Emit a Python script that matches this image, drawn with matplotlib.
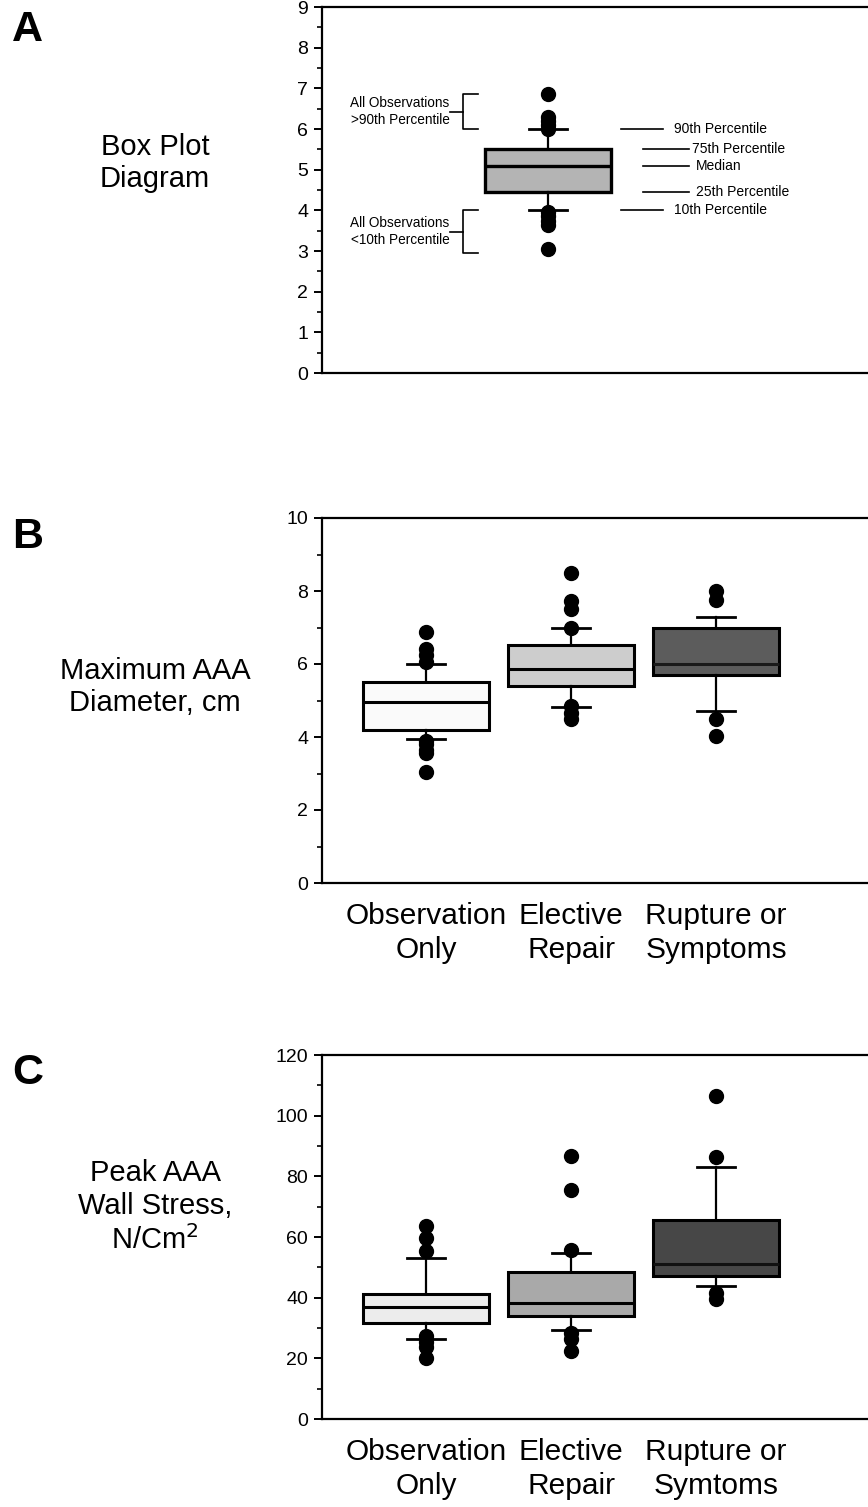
import matplotlib
matplotlib.use("Agg")
import matplotlib.pyplot as plt
from matplotlib.ticker import MultipleLocator

plt.rcParams['font.family'] = ['Liberation Sans', 'DejaVu Sans']

# ---------------- data ----------------
# Panel A: schematic box plot
a_stats = dict(med=5.1, q1=4.45, q3=5.5, whislo=4.0, whishi=6.0)
a_fliers = [6.85, 6.3, 6.2, 6.1, 6.0, 3.95, 3.85, 3.75, 3.65, 3.05]

# Panel B: maximum AAA diameter, cm
b_categories = ["Observation\nOnly", "Elective\nRepair", "Rupture or\nSymptoms"]
b_med = [4.97, 5.87, 6.0]
b_q1 = [4.2, 5.4, 5.7]
b_q3 = [5.52, 6.52, 7.0]
b_whislo = [3.95, 4.82, 4.7]
b_whishi = [6.0, 6.98, 7.3]
b_fliers = [
    [6.88, 6.4, 6.25, 6.05, 3.9, 3.8, 3.65, 3.55, 3.03],
    [8.5, 7.73, 7.5, 7.0, 4.85, 4.65, 4.5],
    [8.0, 7.75, 4.5, 4.03],
]

# Panel C: peak AAA wall stress, N/cm^2
c_categories = ["Observation\nOnly", "Elective\nRepair", "Rupture or\nSymtoms"]
c_med = [37.0, 38.2, 51.0]
c_q1 = [31.8, 33.9, 47.0]
c_q3 = [41.3, 48.4, 65.6]
c_whislo = [26.4, 29.5, 44.0]
c_whishi = [53.0, 54.6, 83.0]
c_fliers = [
    [63.6, 59.6, 55.3, 27.5, 25.5, 23.8, 20.2],
    [86.8, 75.5, 55.6, 28.3, 26.4, 22.4],
    [106.4, 86.4, 41.7, 39.6],
]

# ---------------- styling ----------------
W, H = 868, 1507
fig = plt.figure(figsize=(W / 100, H / 100), dpi=100)

def px_axes(left, top, bottom, right=W):
    return fig.add_axes([left / W, (H - bottom) / H, (right - left) / W, (bottom - top) / H])

ax_a = px_axes(322, 7, 373)
ax_b = px_axes(322, 518, 883)
ax_c = px_axes(322, 1055, 1419)

box_w = 0.87
cap_w = 0.26
flierprops = dict(marker='o', markerfacecolor='black', markeredgecolor='black', markersize=10, linestyle='none')

def style_axes(ax, ymax, major, minor, xlim):
    ax.set_ylim(0, ymax)
    ax.set_xlim(*xlim)
    ax.yaxis.set_major_locator(MultipleLocator(major))
    ax.yaxis.set_minor_locator(MultipleLocator(minor))
    for s in ['left', 'bottom', 'top']:
        ax.spines[s].set_linewidth(1.6)
    ax.spines['right'].set_visible(False)
    ax.tick_params(axis='y', which='major', length=6, width=1.4, labelsize=14, pad=4)
    ax.tick_params(axis='y', which='minor', length=3.5, width=1.2)
    ax.tick_params(axis='x', length=0, labelsize=21.5, pad=14)

def draw_boxes(ax, meds, q1s, q3s, los, his, fliers, positions, colors, med_colors):
    stats = []
    for m, a, b, lo, hi, f in zip(meds, q1s, q3s, los, his, fliers):
        stats.append(dict(med=m, q1=a, q3=b, whislo=lo, whishi=hi, fliers=f))
    bp = ax.bxp(stats, positions=positions, widths=box_w, capwidths=cap_w,
                patch_artist=True, showfliers=True, manage_ticks=False,
                boxprops=dict(linewidth=2.2, edgecolor='black'),
                whiskerprops=dict(linewidth=1.6, color='black'),
                capprops=dict(linewidth=2.0, color='black'),
                medianprops=dict(linewidth=2.2, color='black'),
                flierprops=flierprops)
    for patch, c in zip(bp['boxes'], colors):
        patch.set_facecolor(c)
    for med, c in zip(bp['medians'], med_colors):
        med.set_color(c)
    return bp

# ---- Panel A ----
style_axes(ax_a, 9, 1, 0.5, (1.5 - 226 / 145, 1.5 + 320 / 145))
ax_a.set_xticks([])
st = dict(a_stats)
st['fliers'] = a_fliers
bp = ax_a.bxp([st], positions=[1.5], widths=box_w, capwidths=cap_w, patch_artist=True,
              manage_ticks=False,
              boxprops=dict(linewidth=2.4, edgecolor='black', facecolor='#b4b4b4'),
              whiskerprops=dict(linewidth=1.6, color='black'),
              capprops=dict(linewidth=2.0, color='black'),
              medianprops=dict(linewidth=2.4, color='black'),
              flierprops=flierprops)

# brackets on left
def bracket(ax, x0, x1, ylo, yhi):
    ax.plot([x1, x0, x0, x1], [yhi, yhi, ylo, ylo], color='black', lw=1.2)
    ax.plot([x0 - 0.09, x0], [(ylo + yhi) / 2] * 2, color='black', lw=1.2)

bracket(ax_a, 0.915, 1.02, 6.0, 6.85)
bracket(ax_a, 0.915, 1.02, 2.95, 4.0)
ax_a.text(0.82, 6.43, "All Observations\n>90th Percentile", ha='right', va='center', fontsize=9.8, linespacing=1.3)
ax_a.text(0.82, 3.48, "All Observations\n<10th Percentile", ha='right', va='center', fontsize=9.8, linespacing=1.3)

# right side labels
right_labels = [
    (6.0, 2.0, 2.29, 2.37, "90th Percentile"),
    (5.5, 2.155, 2.47, 2.49, "75th Percentile"),
    (5.1, 2.155, 2.47, 2.52, "Median"),
    (4.45, 2.155, 2.47, 2.52, "25th Percentile"),
    (4.0, 2.0, 2.29, 2.37, "10th Percentile"),
]
for y, x0, x1, xt, lab in right_labels:
    ax_a.plot([x0, x1], [y, y], color='black', lw=1.2)
    ax_a.text(xt, y, lab, ha='left', va='center', fontsize=10)

# ---- Panel B ----
xl = (1 - 104 / 145, 1 + 442 / 145)
style_axes(ax_b, 10, 2, 1, xl)
draw_boxes(ax_b, b_med, b_q1, b_q3, b_whislo, b_whishi, b_fliers, [1, 2, 3],
           ['#fafafa', '#cdcdcd', '#5c5c5c'], ['black', 'black', '#1a1a1a'])
ax_b.set_xticks([1, 2, 3])
ax_b.set_xticklabels(b_categories, linespacing=1.25)

# ---- Panel C ----
style_axes(ax_c, 120, 20, 10, xl)
draw_boxes(ax_c, c_med, c_q1, c_q3, c_whislo, c_whishi, c_fliers, [1, 2, 3],
           ['#ececec', '#a9a9a9', '#474747'], ['black', 'black', '#111111'])
ax_c.set_xticks([1, 2, 3])
ax_c.set_xticklabels(c_categories, linespacing=1.25)

# ---- panel letters and side titles ----
for letter, ypx in [("A", 30), ("B", 537), ("C", 1073)]:
    fig.text(12 / W, 1 - ypx / H, letter, fontsize=31, fontweight='bold', ha='left', va='center')

fig.text(155 / W, 1 - 163 / H, "Box Plot\nDiagram", fontsize=21, ha='center', va='center', linespacing=1.22)
fig.text(155 / W, 1 - 687 / H, "Maximum AAA\nDiameter, cm", fontsize=21, ha='center', va='center', linespacing=1.22)
fig.text(155 / W, 1 - 1207 / H, "Peak AAA\nWall Stress,\nN/Cm$^2$", fontsize=21, ha='center', va='center', linespacing=1.22)

fig.savefig("out.png", dpi=100)
